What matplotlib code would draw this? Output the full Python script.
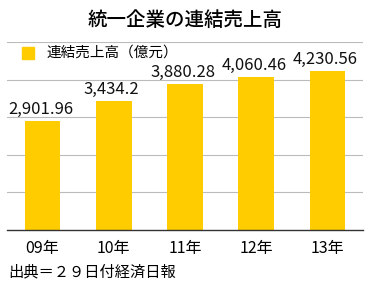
import matplotlib
matplotlib.use("Agg")
import matplotlib.pyplot as plt
from matplotlib.patches import Rectangle

plt.rcParams['font.family'] = ['Noto Sans CJK JP', 'DejaVu Sans']

years = ["09年", "10年", "11年", "12年", "13年"]
sales = [2901.96, 3434.2, 3880.28, 4060.46, 4230.56]
labels = ["2,901.96", "3,434.2", "3,880.28", "4,060.46", "4,230.56"]

bar_color = "#FFCC00"

fig = plt.figure(figsize=(3.71, 2.86), dpi=100)
ax = fig.add_axes([7 / 371, 1 - 230 / 286, 356 / 371, 188 / 286])

x = range(len(years))
ax.bar(x, sales, width=0.5, color=bar_color, zorder=2)
for xi, v, lab in zip(x, sales, labels):
    ax.text(xi - 0.03, v + 90, lab, ha="center", va="bottom", fontsize=12, color="#111111")

ax.set_xlim(-0.5, 4.5)
ax.set_ylim(0, 5000)
ax.set_yticks([1000, 2000, 3000, 4000, 5000])
ax.yaxis.grid(True, color="#bbbbbb", linewidth=0.8, zorder=0)
ax.set_yticklabels([])
ax.tick_params(axis="y", length=0)
ax.tick_params(axis="x", length=0, pad=7, labelsize=11.5)
ax.set_xticks(list(x))
ax.set_xticklabels(years)
for s in ["top", "left", "right"]:
    ax.spines[s].set_visible(False)
ax.spines["bottom"].set_color("#333333")
ax.spines["bottom"].set_linewidth(1.0)
ax.set_axisbelow(True)

fig.text(0.5, 1 - 20 / 286, "統一企業の連結売上高", ha="center", va="center",
         fontsize=14, fontweight="medium")
fig.patches.append(Rectangle((22 / 371, 1 - 59 / 286), 12 / 371, 12 / 286,
                             transform=fig.transFigure, color=bar_color))
fig.text(47 / 371, 1 - 53 / 286, "連結売上高（億元）", ha="left", va="center", fontsize=10.5)
fig.text(8 / 371, 1 - 272 / 286, "出典＝２９日付経済日報", ha="left", va="center", fontsize=11)

fig.savefig("out.png", dpi=100)
